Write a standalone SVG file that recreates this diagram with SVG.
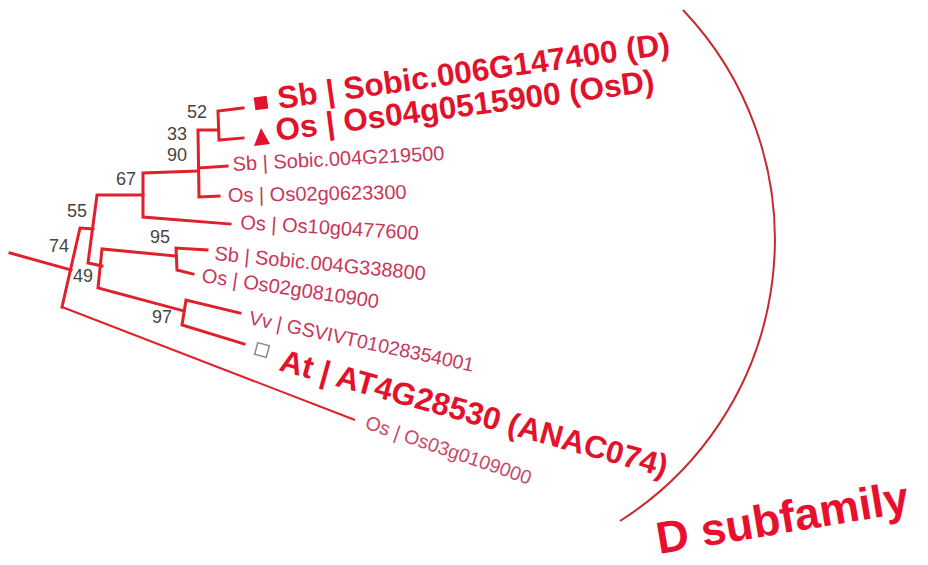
<svg xmlns="http://www.w3.org/2000/svg" width="928" height="565" viewBox="0 0 928 565">
<style>
.br{fill:none;stroke:#e0202a;stroke-width:3;stroke-linejoin:miter;stroke-linecap:square}
.thin{fill:none;stroke:#e0202a;stroke-width:2}
.sm{font-family:"Liberation Sans",Arial,sans-serif;font-size:20px;fill:#c8375a}
.big{font-family:"Liberation Sans",Arial,sans-serif;font-size:31.5px;font-weight:bold;fill:#e3122c}
.num{font-family:"Liberation Sans",Arial,sans-serif;font-size:18px;fill:#454545;text-anchor:middle}
.arc{fill:none;stroke:#c42a30;stroke-width:2}
.title{font-family:"Liberation Sans",Arial,sans-serif;font-size:45px;font-weight:bold;fill:#e8102c}
</style>
<rect width="928" height="565" fill="#ffffff"/>
<g id="connectors">
<path class="br" d="M10,253 L71,270"/>
<path class="br" d="M93,229 L80,228 L62,307"/>
<path class="thin" d="M62,307 L355,420"/>
<path class="br" d="M143,195 L97,195 L88,263 L102,266"/>
<path class="br" d="M198,171 L143,173 L143,217 L230,224"/>
<path class="br" d="M218,130 L198,130 L199,197 L219,196"/>
<path class="br" d="M198.5,168 L227,166"/>
<path class="br" d="M243,108 L218,111 L219,140 L243,138"/>
<path class="br" d="M176,256 L102,249 L98,288 L184,311"/>
<path class="br" d="M207,250 L176,248 L177,270 L193,274"/>
<path class="br" d="M240,313 L186,300 L182,325 L244,344"/>
</g>
<g id="support">
<text class="num" x="197" y="118">52</text>
<text class="num" x="177" y="140">33</text>
<text class="num" x="177" y="161">90</text>
<text class="num" x="126" y="185">67</text>
<text class="num" x="77" y="217">55</text>
<text class="num" x="59" y="252">74</text>
<text class="num" x="83" y="282">49</text>
<text class="num" x="160" y="243">95</text>
<text class="num" x="162" y="323">97</text>
</g>
<g id="leaf-sb-006G147400">
<rect x="-6.5" y="-6.5" width="13" height="13" fill="#e3122c" transform="translate(261,103) rotate(-8)"/>
<text class="big" transform="translate(279,109) rotate(-8)">Sb | Sobic.006G147400 (D)</text>
</g>
<g id="leaf-os-04g0515900">
<polygon points="254,146 270,144 261,128" fill="#e3122c"/>
<text class="big" transform="translate(277,141) rotate(-7.5)">Os | Os04g0515900 (OsD)</text>
</g>
<g id="leaf-sb-004G219500">
<text class="sm" transform="translate(233,171) rotate(-3)">Sb | Sobic.004G219500</text>
</g>
<g id="leaf-os-02g0623300">
<text class="sm" transform="translate(228,202) rotate(-1)">Os | Os02g0623300</text>
</g>
<g id="leaf-os-10g0477600">
<text class="sm" transform="translate(240,229) rotate(3.5)">Os | Os10g0477600</text>
</g>
<g id="leaf-sb-004G338800">
<text class="sm" transform="translate(214,260) rotate(5.5)">Sb | Sobic.004G338800</text>
</g>
<g id="leaf-os-02g0810900">
<text class="sm" transform="translate(201,282) rotate(8.5)">Os | Os02g0810900</text>
</g>
<g id="leaf-vv">
<text class="sm" style="font-size:19.5px" transform="translate(248,324) rotate(12)">Vv | GSVIVT01028354001</text>
</g>
<g id="leaf-at">
<rect x="-6" y="-6" width="12" height="12" fill="none" stroke="#8a8a8a" stroke-width="1.5" transform="translate(262,350) rotate(15)"/>
<text class="big" transform="translate(278,370) rotate(15.5)">At | AT4G28530 (ANAC074)</text>
</g>
<g id="leaf-os-03g0109000">
<text class="sm" style="font-size:19.5px;fill:#c84a68" transform="translate(364,428) rotate(19)">Os | Os03g0109000</text>
</g>
<g id="clade">
<path class="arc" d="M683,10 A333,333 0 0 1 620,521"/>
<text class="title" transform="translate(659,554) rotate(-9.5)">D subfamily</text>
</g>
</svg>
